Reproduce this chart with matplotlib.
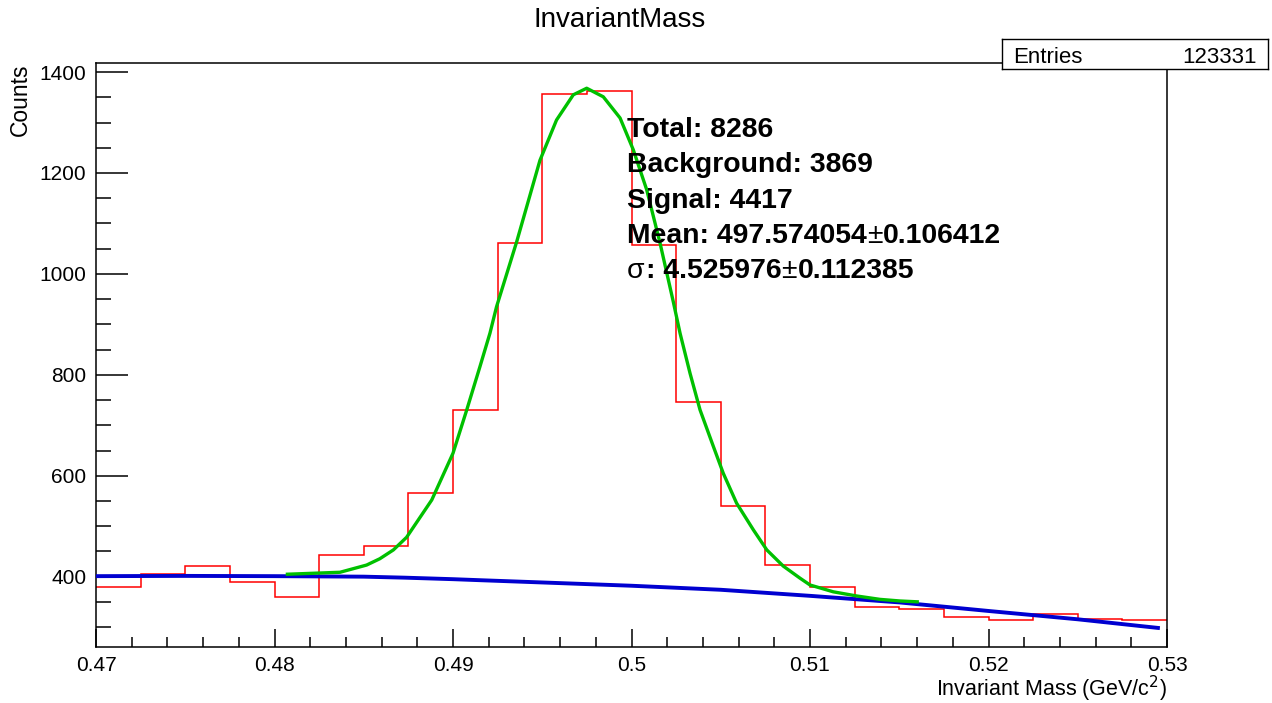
import matplotlib
matplotlib.use('Agg')
import matplotlib.pyplot as plt
import numpy as np
from matplotlib.ticker import MultipleLocator, FuncFormatter

plt.rcParams['font.family'] = ['Liberation Sans', 'DejaVu Sans']

# ---------------- data ----------------
bin_edges = np.linspace(0.47, 0.53, 25)   # 24 bins, width 0.0025
counts = [379, 405, 421, 390, 360, 442, 461, 566, 731, 1061, 1356, 1363,
          1058, 747, 540, 424, 380, 339, 335, 321, 314, 326, 317, 314]

# background fit (blue)
bg_x = [0.4700, 0.4750, 0.4800, 0.4850, 0.4873, 0.4900, 0.4915, 0.4950,
        0.5000, 0.5050, 0.5100, 0.5150, 0.5200, 0.5250, 0.5296]
bg_y = [401, 401.5, 401, 400, 398, 395, 393, 388.5,
        382, 374, 362, 349, 332, 315.5, 298]

# signal + background fit (green)
fit_x = [0.48063, 0.48367, 0.48516, 0.48590, 0.48666, 0.48740, 0.48881, 0.49000,
         0.49077, 0.49151, 0.49207, 0.49244, 0.49357, 0.49487, 0.49580, 0.49674,
         0.49749, 0.49842, 0.49936, 0.50010, 0.50085, 0.50160, 0.50234, 0.50272,
         0.50328, 0.50384, 0.50459, 0.50514, 0.50589, 0.50683, 0.50758, 0.50850,
         0.50944, 0.51000, 0.51130, 0.51262, 0.51392, 0.51504, 0.51610]
fit_y = [404.7, 408.7, 423, 435.5, 453, 478, 552, 644.6,
         730.5, 816.3, 882.5, 935, 1064, 1225, 1305, 1355,
         1368, 1351, 1309, 1246, 1167, 1061, 945, 882.5,
         803, 730.5, 657.7, 605, 545.5, 492.6, 453, 421,
         397, 383.5, 370, 361.7, 355, 351.8, 350]

title = "InvariantMass"
xlabel = "Invariant Mass (GeV/c$^{2}$)"
ylabel = "Counts"
stats_label, stats_value = "Entries", "123331"
# each info line: list of (text, weight)
info_lines = [
    [("Total: 8286", 'bold')],
    [("Background: 3869", 'bold')],
    [("Signal: 4417", 'bold')],
    [("Mean: 497.574054", 'bold'), ("\u00b1", 'normal'), ("0.106412", 'bold')],
    [("\u03c3", 'normal'), (": 4.525976", 'bold'), ("\u00b1", 'normal'), ("0.112385", 'bold')],
]

# ---------------- figure ----------------
W, H = 1272, 703
fig = plt.figure(figsize=(W / 100, H / 100), dpi=100)
fig.patch.set_facecolor('white')

x0, x1, y0, y1 = 96, 1167, 63, 647.3
ax = fig.add_axes([x0 / W, 1 - y1 / H, (x1 - x0) / W, (y1 - y0) / H])

ax.stairs(counts, bin_edges, color='#ff0000', lw=1.1, baseline=None, zorder=2)
ax.plot(bg_x, bg_y, color='#0000d0', lw=2.8, solid_capstyle='butt', zorder=3)
ax.plot(fit_x, fit_y, color='#00c000', lw=2.4, solid_capstyle='butt',
        solid_joinstyle='round', zorder=4)

ax.set_xlim(0.47, 0.53)
ax.set_ylim(260, 1418)

ax.xaxis.set_major_locator(MultipleLocator(0.01))
ax.xaxis.set_minor_locator(MultipleLocator(0.002))
ax.yaxis.set_major_locator(MultipleLocator(200))
ax.yaxis.set_minor_locator(MultipleLocator(50))
ax.xaxis.set_major_formatter(FuncFormatter(lambda v, p: '%g' % round(v, 4)))
ax.yaxis.set_major_formatter(FuncFormatter(lambda v, p: '%d' % v))

ax.tick_params(which='both', direction='in', top=False, right=False,
               width=1.1, colors='black')
ax.tick_params(axis='x', which='major', length=13, labelsize=15, pad=6)
ax.tick_params(axis='x', which='minor', length=7)
ax.tick_params(axis='y', which='major', length=23, labelsize=15, pad=7)
ax.tick_params(axis='y', which='minor', length=11)
for s in ax.spines.values():
    s.set_linewidth(1.1)

# axis titles
fig.text(x1 / W, 1 - 696.5 / H, xlabel, ha='right', va='baseline', fontsize=15.5)
fig.text(20 / W, 1 - y0 / H, ylabel, ha='center', va='top', rotation=90, fontsize=16.5)

# title
fig.text(619.5 / W, 1 - 20 / H, title, ha='center', va='center', fontsize=20)

# stats box
bl, bt, br, bb = 1001.7, 39, 1268, 69
sax = fig.add_axes([bl / W, 1 - bb / H, (br - bl) / W, (bb - bt) / H])
sax.set_xticks([]); sax.set_yticks([])
sax.set_facecolor('white')
for s in sax.spines.values():
    s.set_linewidth(1.0)
sax.text((1013.5 - bl) / (br - bl), (bb - 63) / (bb - bt), stats_label, ha='left',
         va='baseline', fontsize=16, transform=sax.transAxes)
sax.text((1256.5 - bl) / (br - bl), (bb - 63) / (bb - bt), stats_value, ha='right',
         va='baseline', fontsize=16, transform=sax.transAxes)

# fit info text
renderer = fig.canvas.get_renderer()
base0, step = 136.7, 35.4
for i, segs in enumerate(info_lines):
    xpix = 627
    ypos = 1 - (base0 + i * step) / H
    for txt, wgt in segs:
        t = fig.text(xpix / W, ypos, txt, ha='left', va='baseline',
                     fontsize=20.4, fontweight=wgt, zorder=10)
        xpix += t.get_window_extent(renderer).width + (1 if wgt == 'normal' else 0)

fig.savefig('out.png', dpi=100)
